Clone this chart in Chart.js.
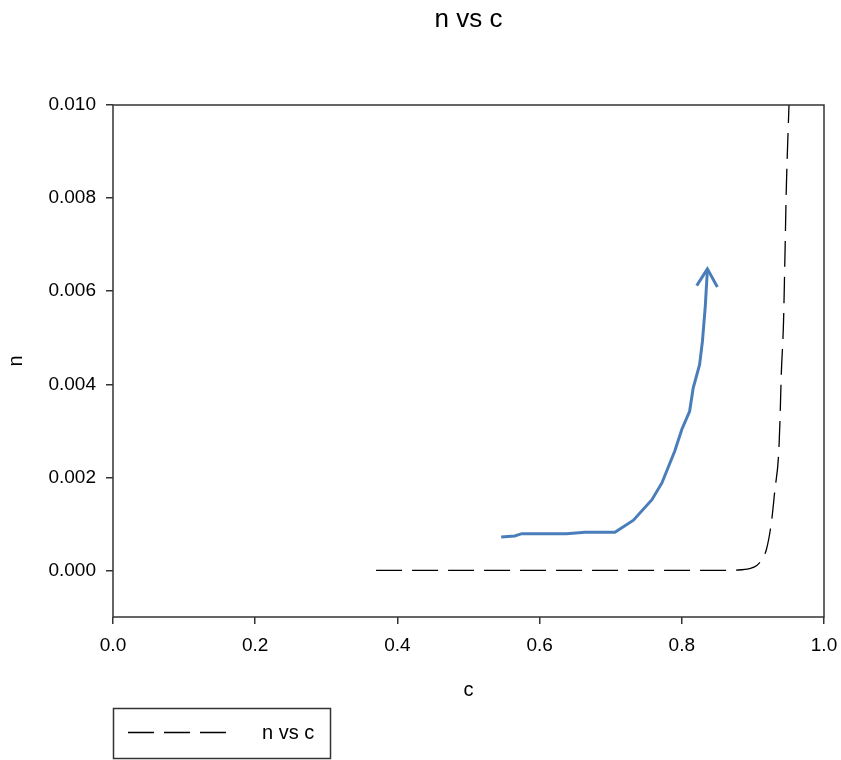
<!DOCTYPE html>
<html>
<head>
<meta charset="utf-8">
<title>n vs c</title>
<script src="https://cdn.jsdelivr.net/npm/chart.js@4.4.1/dist/chart.umd.min.js"></script>
<style>
  html, body { margin: 0; padding: 0; background: #fff; }
  canvas { display: block; }
</style>
</head>
<body>
<canvas id="chart" width="841" height="760"></canvas>
<script>
// ---------------------- DATOS ----------------------
// serie "n vs c" (linea discontinua negra)
const cValues = [0.37, 0.45, 0.55, 0.65, 0.75, 0.85, 0.88, 0.895, 0.905, 0.912, 0.919, 0.926, 0.931, 0.936, 0.938, 0.940, 0.943, 0.945, 0.947, 0.951];
const nValues = [0, 0, 0, 0, 0, 0, 0.00001, 0.00004, 0.0001, 0.00022, 0.00045, 0.00103, 0.00174, 0.00245, 0.00318, 0.00425, 0.0053, 0.0067, 0.0082, 0.0101];

// trazo azul a mano con flecha
const trendC = [0.546, 0.565, 0.575, 0.638, 0.664, 0.706, 0.732, 0.758, 0.772, 0.790, 0.800, 0.811, 0.816, 0.825, 0.829, 0.833, 0.836];
const trendN = [0.00072, 0.00074, 0.00079, 0.00079, 0.00082, 0.00082, 0.00108, 0.00152, 0.00188, 0.00256, 0.00303, 0.00342, 0.00392, 0.00442, 0.00492, 0.00567, 0.00646];
const arrowC = [0.821, 0.836, 0.850];
const arrowN = [0.00612, 0.00648, 0.00609];

// ticks
const xTicks = [0, 0.2, 0.4, 0.6, 0.8, 1.0];
const yTicks = [0, 0.002, 0.004, 0.006, 0.008, 0.010];

const FONT = "'Liberation Sans', Arial, sans-serif";
const AXIS_COLOR = "#333";
const BLUE = "#4a7ebb";
const DASH = [26, 10];

const toPoints = (xs, ys) => xs.map((x, i) => ({ x: x, y: ys[i] }));

// ---------------------- MARCO, TITULO Y LEYENDA ----------------------
const decor = {
  id: "decor",
  afterDraw(chart) {
    const { ctx, chartArea: a } = chart;
    ctx.save();

    // marco del area de trazado
    ctx.strokeStyle = AXIS_COLOR;
    ctx.lineWidth = 1.5;
    ctx.strokeRect(a.left, a.top, a.right - a.left, a.bottom - a.top);

    // titulo
    ctx.fillStyle = "#000";
    ctx.font = `26px ${FONT}`;
    ctx.textAlign = "center";
    ctx.textBaseline = "alphabetic";
    ctx.fillText("n vs c", (a.left + a.right) / 2, 27);

    // leyenda
    ctx.lineWidth = 1.5;
    ctx.strokeStyle = AXIS_COLOR;
    ctx.strokeRect(113.5, 708.5, 217, 50);
    ctx.strokeStyle = "#000";
    ctx.lineWidth = 1.3;
    ctx.setLineDash(DASH);
    ctx.beginPath();
    ctx.moveTo(128, 732.5);
    ctx.lineTo(228, 732.5);
    ctx.stroke();
    ctx.setLineDash([]);
    ctx.font = `20px ${FONT}`;
    ctx.textAlign = "left";
    ctx.textBaseline = "middle";
    ctx.fillText("n vs c", 262, 733);

    ctx.restore();
  },
};

// ---------------------- GRAFICO ----------------------
new Chart(document.getElementById("chart"), {
  type: "scatter",
  data: {
    datasets: [
      {
        label: "n vs c",
        data: toPoints(cValues, nValues),
        showLine: true,
        borderColor: "#000",
        borderWidth: 1.3,
        borderDash: DASH,
        cubicInterpolationMode: "monotone",
        pointRadius: 0,
      },
      {
        label: "tendencia",
        data: toPoints(trendC, trendN),
        showLine: true,
        borderColor: BLUE,
        borderWidth: 3,
        pointRadius: 0,
        tension: 0,
      },
      {
        label: "flecha",
        data: toPoints(arrowC, arrowN),
        showLine: true,
        borderColor: BLUE,
        borderWidth: 3,
        borderJoinStyle: "miter",
        pointRadius: 0,
        tension: 0,
      },
    ],
  },
  options: {
    responsive: false,
    animation: false,
    layout: { padding: { left: 0, top: 105, right: 17, bottom: 54 } },
    plugins: {
      legend: { display: false },
      title: { display: false },
      tooltip: { enabled: false },
    },
    scales: {
      x: {
        type: "linear",
        min: 0,
        max: 1,
        afterBuildTicks: (scale) => { scale.ticks = xTicks.map((v) => ({ value: v })); },
        afterFit: (scale) => {
          scale.height = 89;
          scale.paddingLeft = 0;
          scale.paddingRight = 0;
        },
        ticks: {
          color: "#000",
          font: { family: FONT, size: 19 },
          padding: 10,
          maxRotation: 0,
          callback: (v) => Number(v).toFixed(1),
        },
        grid: { drawOnChartArea: false, drawTicks: true, tickLength: 7, color: AXIS_COLOR, lineWidth: 1.5 },
        border: { display: false },
        title: { display: true, text: "c", color: "#000", font: { family: FONT, size: 20 } },
      },
      y: {
        type: "linear",
        min: -0.001,
        max: 0.010,
        afterBuildTicks: (scale) => { scale.ticks = yTicks.map((v) => ({ value: v })); },
        afterFit: (scale) => { scale.width = 113; },
        ticks: {
          color: "#000",
          font: { family: FONT, size: 19 },
          padding: 10,
          callback: (v) => Number(v).toFixed(3),
        },
        grid: { drawOnChartArea: false, drawTicks: true, tickLength: 7, color: AXIS_COLOR, lineWidth: 1.5 },
        border: { display: false },
        title: { display: true, text: "n", color: "#000", font: { family: FONT, size: 20 } },
      },
    },
  },
  plugins: [decor],
});
</script>
</body>
</html>
